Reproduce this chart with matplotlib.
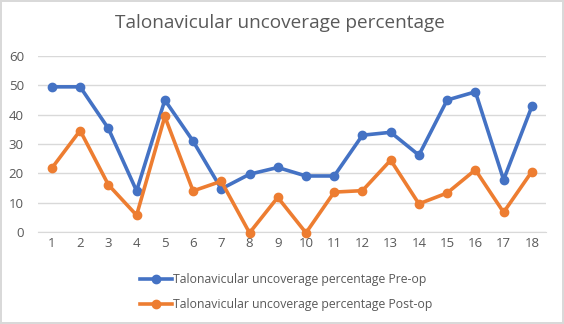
import matplotlib
matplotlib.use("Agg")
import matplotlib.pyplot as plt

cases = list(range(1, 19))
pre_op = [49.5, 49.5, 35.3, 14.0, 45.0, 31.0, 14.7, 19.7, 22.0, 19.1, 19.1,
          33.0, 34.0, 26.2, 45.0, 47.8, 17.8, 42.8]
post_op = [21.8, 34.6, 16.1, 5.7, 39.4, 14.0, 17.3, -0.3, 11.8, -0.3, 13.6,
           14.1, 24.5, 9.6, 13.3, 21.2, 6.7, 20.6]
series_names = ["Talonavicular uncoverage percentage Pre-op",
                "Talonavicular uncoverage percentage Post-op"]
title = "Talonavicular uncoverage percentage"

GREY = "#595959"
plt.rcParams["font.family"] = ["Open Sans", "DejaVu Sans"]

fig = plt.figure(figsize=(5.64, 3.24), dpi=100)
fig.patch.set_edgecolor("#d9d9d9")
fig.patch.set_linewidth(1.5)
ax = fig.add_axes([0.067, 0.284, 0.901, 0.543])

l1, = ax.plot(cases, pre_op, "-o", color="#4472C4", lw=2.6, ms=6, clip_on=False, zorder=3)
l2, = ax.plot(cases, post_op, "-o", color="#ED7D31", lw=2.6, ms=6, clip_on=False, zorder=3)

ax.set_xlim(0.5, 18.5)
ax.set_ylim(0, 60)
ax.set_yticks(range(0, 61, 10))
ax.set_xticks(cases)
ax.grid(axis="y", color="#d9d9d9", lw=1)
ax.set_axisbelow(True)
for s in ["top", "right", "left"]:
    ax.spines[s].set_visible(False)
ax.spines["bottom"].set_color("#d9d9d9")
ax.tick_params(length=0, colors=GREY, labelsize=9.5)
ax.tick_params(axis="y", pad=10)

fig.text(0.497, 0.928, title, ha="center", va="center", fontsize=13.7, color=GREY)
fig.legend([l1, l2], series_names, loc="upper left", bbox_to_anchor=(0.24, 0.172),
           frameon=False, fontsize=8.8, labelcolor=GREY, handlelength=2.6,
           handletextpad=0.1, labelspacing=1.0, borderaxespad=0)

fig.savefig("out.png", dpi=100)
